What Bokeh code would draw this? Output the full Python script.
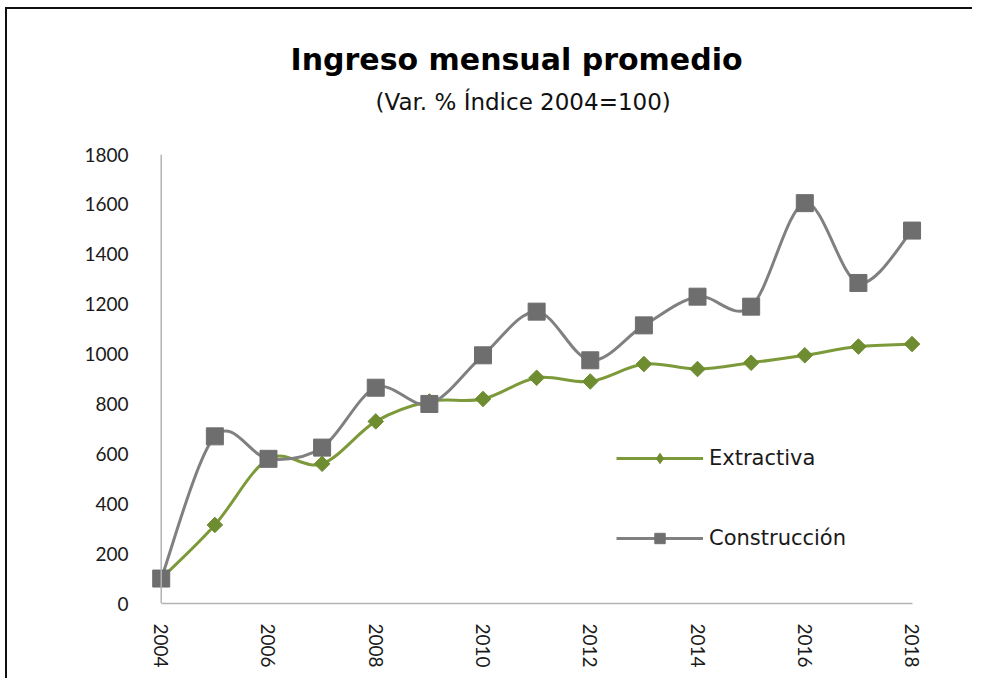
import numpy as np
from bokeh.plotting import figure
from bokeh.models import Range1d, FixedTicker, Title, Legend, LegendItem, Span
from bokeh.embed import file_html
from bokeh.resources import INLINE

years = list(range(2004, 2019))
extractiva = [100, 315, 580, 560, 730, 810, 820, 905, 890, 960, 940, 965, 995, 1030, 1040]
construccion = [100, 670, 580, 625, 865, 800, 995, 1170, 975, 1115, 1230, 1190, 1605, 1285, 1495]
y_ticks = [0, 200, 400, 600, 800, 1000, 1200, 1400, 1600, 1800]
x_ticks = [2004, 2006, 2008, 2010, 2012, 2014, 2016, 2018]
title_text = "Ingreso mensual promedio"
subtitle_text = "(Var. % Índice 2004=100)"
series_names = ["Extractiva", "Construcción"]

FONT = "Lato"
WIDE = "DejaVu Sans"
GREEN_LINE = "#7d9a3b"
GREEN_MARK = "#6e8c30"
GRAY_LINE = "#808080"
GRAY_MARK = "#6e6e6e"


def smooth_segments(xs, ys):
    """Excel-like smoothed line: cubic Bezier control points from neighbours."""
    x = np.asarray(xs, float)
    y = np.asarray(ys, float)
    n = len(x)
    xp = np.concatenate([[x[0]], x, [x[-1]]])
    yp = np.concatenate([[y[0]], y, [y[-1]]])
    return dict(
        x0=x[:-1], y0=y[:-1], x1=x[1:], y1=y[1:],
        cx0=x[:-1] + (xp[2:n + 1] - xp[0:n - 1]) / 6,
        cy0=y[:-1] + (yp[2:n + 1] - yp[0:n - 1]) / 6,
        cx1=x[1:] - (xp[3:n + 2] - xp[1:n]) / 6,
        cy1=y[1:] - (yp[3:n + 2] - yp[1:n]) / 6,
    )


p = figure(width=967, height=671,
           x_range=Range1d(2003.8, 2018.4), y_range=Range1d(0, 1800),
           output_backend="svg", toolbar_location=None,
           min_border_left=143, min_border_right=41,
           min_border_top=145, min_border_bottom=77)
p.styles = {"border-top": "2px solid #111", "border-left": "2px solid #111",
            "margin-top": "7px", "margin-left": "5px"}
p.outline_line_color = None
p.grid.visible = False
p.background_fill_color = "white"
p.border_fill_color = "white"

# axes
p.yaxis.ticker = FixedTicker(ticks=y_ticks)
p.xaxis.ticker = FixedTicker(ticks=x_ticks)
p.xaxis.bounds = (years[0], years[-1])
p.yaxis.axis_line_color = None
p.xaxis.axis_line_color = "#b3b3b3"
p.xaxis.axis_line_width = 1.5
for ax in (p.xaxis, p.yaxis):
    ax.major_tick_line_color = None
    ax.minor_tick_line_color = None
    ax.major_label_text_font = FONT
    ax.major_label_text_font_size = "19px"
    ax.major_label_text_color = "#1a1a1a"
p.xaxis.major_label_orientation = "vertical"
p.xaxis.major_label_standoff = 14
p.yaxis.major_label_standoff = 16
p.add_layout(Span(location=years[0], dimension="height",
                  line_color="#b3b3b3", line_width=1.5))

# series
sm_e = smooth_segments(years, extractiva)
sm_c = smooth_segments(years, construccion)
le = p.bezier(source=sm_e, x0="x0", y0="y0", x1="x1", y1="y1",
              cx0="cx0", cy0="cy0", cx1="cx1", cy1="cy1",
              line_color=GREEN_LINE, line_width=3)
# diamond key for the legend, drawn underneath the (larger) rotated squares
me_key = p.scatter(years, extractiva, marker="diamond", size=12,
                   fill_color=GREEN_MARK, line_color=GREEN_MARK)
me = p.scatter(years, extractiva, marker="square", angle=np.pi / 4, size=11,
               fill_color=GREEN_MARK, line_color=GREEN_MARK)
lc = p.bezier(source=sm_c, x0="x0", y0="y0", x1="x1", y1="y1",
              cx0="cx0", cy0="cy0", cx1="cx1", cy1="cy1",
              line_color=GRAY_LINE, line_width=3)
mc = p.scatter(years, construccion, marker="square", size=17,
               fill_color=GRAY_MARK, line_color=GRAY_MARK)

legend = Legend(items=[LegendItem(label=series_names[0], renderers=[le, me_key]),
                       LegendItem(label=series_names[1], renderers=[lc, mc])],
                location=(466, 52), orientation="vertical",
                glyph_width=87, glyph_height=26, label_standoff=6,
                spacing=54, padding=0, margin=0,
                border_line_color=None, background_fill_alpha=0,
                label_text_font=WIDE, label_text_font_size="21px",
                label_text_color="#1a1a1a")
p.add_layout(legend, "center")

# titles: subtitle nearest the frame (extra bottom padding), then title
p.title = None
sub = Title(text=subtitle_text, align="left", offset=225,
            text_font=WIDE, text_font_size="23px", text_font_style="normal",
            text_color="#111111", standoff=8, padding=(0, 0, 0, 36))
p.add_layout(sub, "above")
main = Title(text=title_text, align="left", offset=140,
             text_font=WIDE, text_font_size="30px", text_font_style="bold",
             text_color="#000000", standoff=11)
p.add_layout(main, "above")

open("out.html", "w").write(file_html(p, INLINE))
